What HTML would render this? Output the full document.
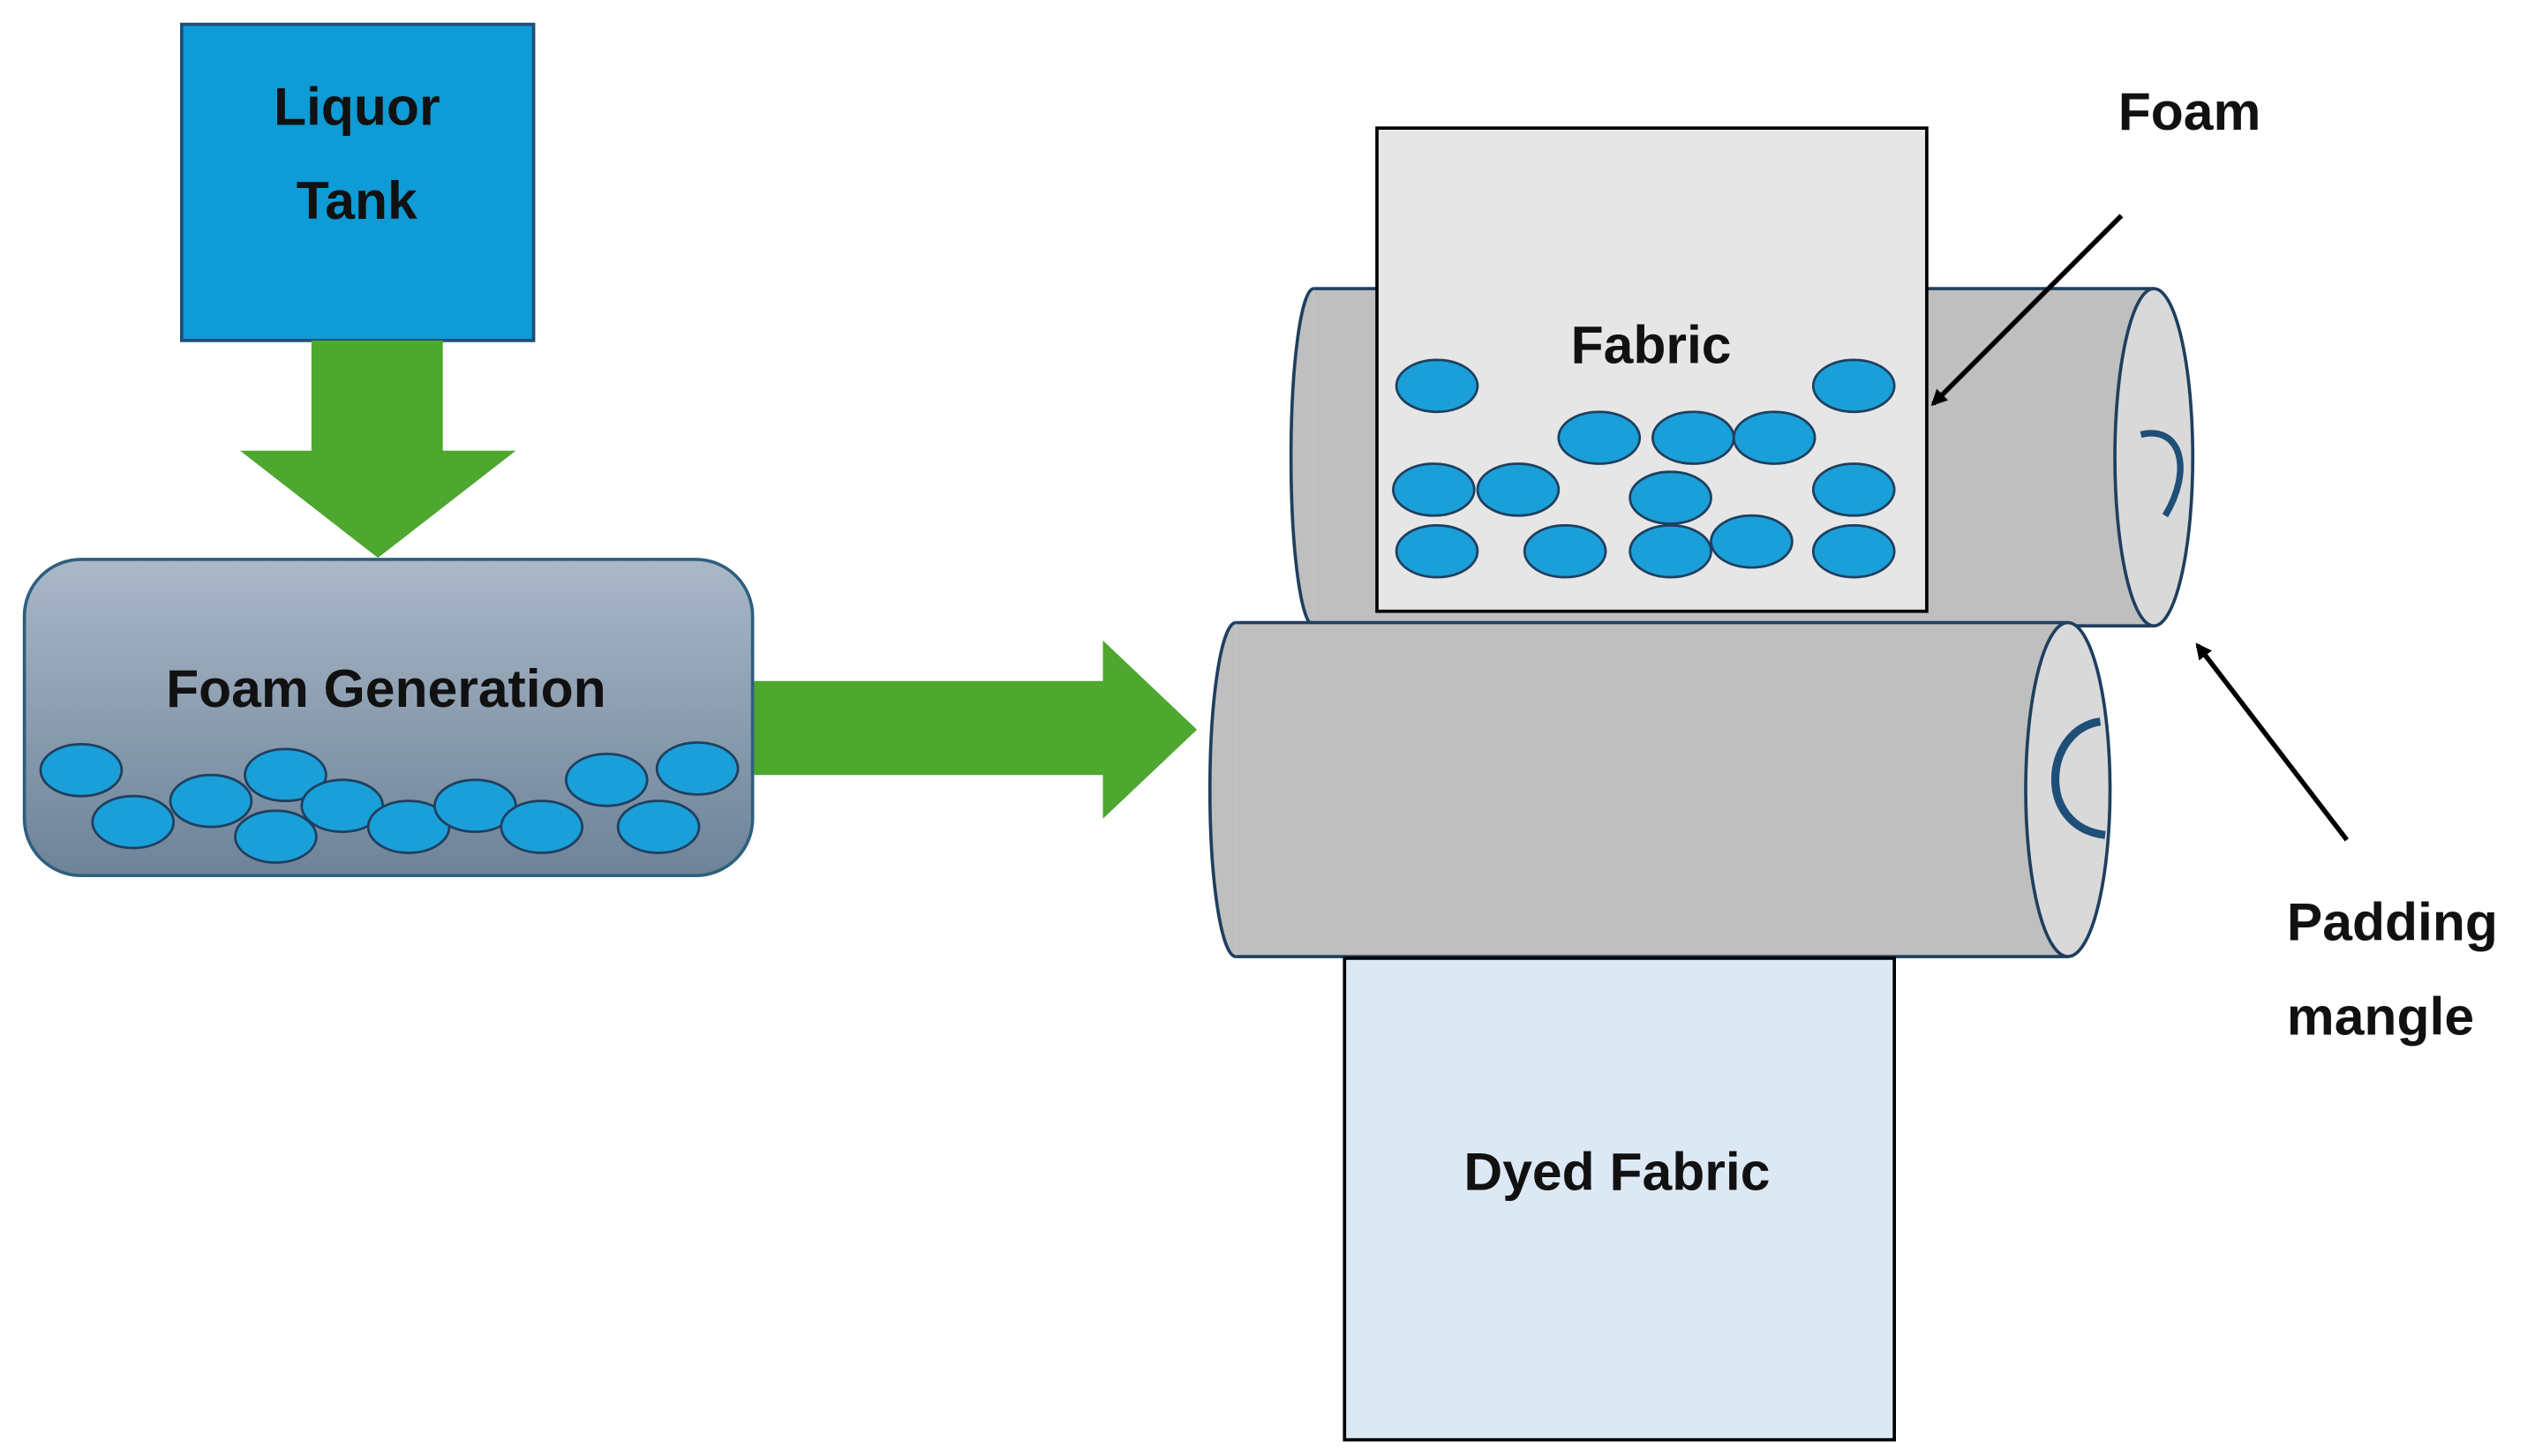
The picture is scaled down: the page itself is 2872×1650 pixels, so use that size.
<!DOCTYPE html>
<html><head><meta charset="utf-8"><style>
html,body{margin:0;padding:0;background:#fff;}
svg{display:block;}
text{font-family:"Liberation Sans",sans-serif;font-weight:bold;fill:#111;}
</style></head><body>
<svg width="2872" height="1650" viewBox="0 0 1563 898" xmlns="http://www.w3.org/2000/svg">
<defs>
<linearGradient id="fg" x1="0" y1="0" x2="0" y2="1">
<stop offset="0" stop-color="#aab8c8"/><stop offset="1" stop-color="#6d8398"/>
</linearGradient>
<marker id="ah" markerWidth="10" markerHeight="10" refX="8" refY="5" orient="auto" markerUnits="userSpaceOnUse">
<path d="M0,0 L10,5 L0,10 z" fill="#000"/>
</marker>
</defs>
<rect width="1563" height="898" fill="#fff"/>
<!-- Liquor tank -->
<rect x="112" y="15" width="217" height="195" fill="#0e9bd6" stroke="#1f4e79" stroke-width="2"/>
<text x="220" y="77" font-size="33" text-anchor="middle">Liquor</text>
<text x="220" y="135" font-size="33" text-anchor="middle">Tank</text>
<!-- down arrow -->
<polygon points="192,210 273,210 273,278 318,278 233,344 148,278 192,278" fill="#4ea72e"/>
<!-- foam generation -->
<rect x="15" y="345" width="449" height="195" rx="35" fill="url(#fg)" stroke="#2f5f7f" stroke-width="2"/>
<text x="238" y="436" font-size="33" text-anchor="middle">Foam Generation</text>
<g fill="#1a9fd8" stroke="#1f3f5f" stroke-width="1.5">
<ellipse cx="50" cy="475" rx="25" ry="16"/><ellipse cx="82" cy="507" rx="25" ry="16"/>
<ellipse cx="130" cy="494" rx="25" ry="16"/><ellipse cx="176" cy="478" rx="25" ry="16"/>
<ellipse cx="170" cy="516" rx="25" ry="16"/><ellipse cx="211" cy="497" rx="25" ry="16"/>
<ellipse cx="252" cy="510" rx="25" ry="16"/><ellipse cx="293" cy="497" rx="25" ry="16"/>
<ellipse cx="334" cy="510" rx="25" ry="16"/><ellipse cx="374" cy="481" rx="25" ry="16"/>
<ellipse cx="406" cy="510" rx="25" ry="16"/><ellipse cx="430" cy="474" rx="25" ry="16"/>
</g>
<!-- right arrow -->
<polygon points="465,420 680,420 680,395 738,450 680,505 680,478 465,478" fill="#4ea72e"/>
<!-- top roller -->
<path d="M810,178 L1328,178 L1328,386 L810,386 Z" fill="#bfbfbf"/>
<path d="M810,178 L1328,178 M810,386 L1328,386" stroke="#1f3f5f" stroke-width="2"/>
<path d="M810,178 A14,104 0 0 0 810,386" fill="#bfbfbf" stroke="#1f3f5f" stroke-width="2"/>
<ellipse cx="1328" cy="282" rx="24" ry="104" fill="#d9d9d9" stroke="#1f3f5f" stroke-width="2"/>
<path d="M1320,268 C1345,262 1352,290 1335,318" fill="none" stroke="#1f4e79" stroke-width="4"/>
<!-- fabric -->
<rect x="849" y="79" width="339" height="298" fill="#e6e6e6" stroke="#000" stroke-width="2"/>
<text x="1018" y="224" font-size="33" text-anchor="middle">Fabric</text>
<g fill="#1a9fd8" stroke="#1f3f5f" stroke-width="1.5">
<ellipse cx="886" cy="238" rx="25" ry="16"/><ellipse cx="1143" cy="238" rx="25" ry="16"/>
<ellipse cx="986" cy="270" rx="25" ry="16"/><ellipse cx="1044" cy="270" rx="25" ry="16"/>
<ellipse cx="1094" cy="270" rx="25" ry="16"/><ellipse cx="884" cy="302" rx="25" ry="16"/>
<ellipse cx="936" cy="302" rx="25" ry="16"/><ellipse cx="1030" cy="307" rx="25" ry="16"/>
<ellipse cx="1143" cy="302" rx="25" ry="16"/><ellipse cx="886" cy="340" rx="25" ry="16"/>
<ellipse cx="965" cy="340" rx="25" ry="16"/><ellipse cx="1030" cy="340" rx="25" ry="16"/>
<ellipse cx="1080" cy="334" rx="25" ry="16"/><ellipse cx="1143" cy="340" rx="25" ry="16"/>
</g>
<!-- bottom roller -->
<path d="M762,384 L1275,384 L1275,590 L762,590 Z" fill="#bfbfbf"/>
<path d="M762,384 L1275,384 M762,590 L1275,590" stroke="#1f3f5f" stroke-width="2"/>
<path d="M762,384 A16,103 0 0 0 762,590" fill="#bfbfbf" stroke="#1f3f5f" stroke-width="2"/>
<ellipse cx="1275" cy="487" rx="26" ry="103" fill="#d9d9d9" stroke="#1f3f5f" stroke-width="2"/>
<path d="M1295,445 C1260,450 1255,510 1298,515" fill="none" stroke="#1f4e79" stroke-width="5"/>
<!-- dyed fabric -->
<rect x="829" y="591" width="339" height="297" fill="#dce9f5" stroke="#000" stroke-width="2"/>
<text x="997" y="734" font-size="33" text-anchor="middle">Dyed Fabric</text>
<!-- labels -->
<text x="1350" y="80" font-size="33" text-anchor="middle">Foam</text>
<line x1="1308" y1="133" x2="1192" y2="249" stroke="#000" stroke-width="3" marker-end="url(#ah)"/>
<text x="1410" y="580" font-size="33">Padding</text>
<text x="1410" y="638" font-size="33">mangle</text>
<line x1="1447" y1="518" x2="1355" y2="398" stroke="#000" stroke-width="3" marker-end="url(#ah)"/>
</svg>
</body></html>
